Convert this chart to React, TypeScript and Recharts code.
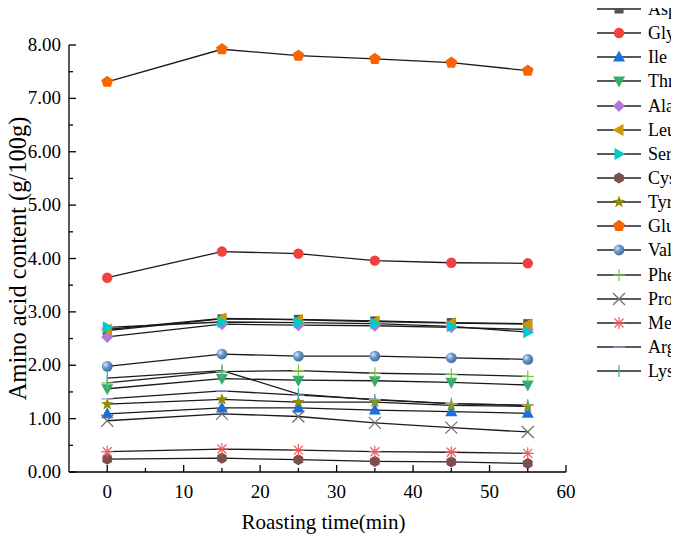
import React from 'react';
import { LineChart, Line, XAxis, YAxis, Legend } from 'recharts';

const timeMin = [0, 15, 25, 35, 45, 55];
const aspValues = [2.65, 2.87, 2.86, 2.83, 2.80, 2.78];
const glyValues = [3.64, 4.13, 4.09, 3.96, 3.92, 3.91];
const ileValues = [1.09, 1.20, 1.20, 1.16, 1.13, 1.10];
const thrValues = [1.56, 1.75, 1.72, 1.71, 1.68, 1.63];
const alaValues = [2.53, 2.77, 2.75, 2.74, 2.71, 2.67];
const leuValues = [2.67, 2.88, 2.85, 2.82, 2.79, 2.77];
const serValues = [2.71, 2.81, 2.80, 2.78, 2.73, 2.62];
const cysValues = [0.24, 0.26, 0.23, 0.20, 0.19, 0.16];
const tyrValues = [1.27, 1.36, 1.31, 1.31, 1.25, 1.23];
const gluValues = [7.31, 7.92, 7.80, 7.74, 7.67, 7.52];
const valValues = [1.98, 2.21, 2.17, 2.17, 2.14, 2.11];
const pheValues = [1.67, 1.88, 1.90, 1.85, 1.83, 1.79];
const proValues = [0.96, 1.09, 1.04, 0.92, 0.83, 0.75];
const metValues = [0.38, 0.43, 0.41, 0.38, 0.37, 0.35];
const argValues = [1.37, 1.52, 1.44, 1.36, 1.28, 1.25];
const lysValues = [1.76, 1.90, 1.46, 1.35, 1.28, 1.25];

const xTicks = [0, 5, 10, 15, 20, 25, 30, 35, 40, 45, 50, 55, 60];
const yTicks = [0, 0.5, 1, 1.5, 2, 2.5, 3, 3.5, 4, 4.5, 5, 5.5, 6, 6.5, 7, 7.5, 8];

const xTitle = 'Roasting time(min)';
const yTitle = 'Amino acid content (g/100g)';

const seriesNames = ['Asp', 'Gly', 'Ile', 'Thr', 'Ala', 'Leu', 'Ser', 'Cys', 'Tyr', 'Glu', 'Val', 'Phe', 'Pro', 'Met', 'Arg', 'Lys'];
const seriesValues = [aspValues, glyValues, ileValues, thrValues, alaValues, leuValues, serValues, cysValues, tyrValues, gluValues, valValues, pheValues, proValues, metValues, argValues, lysValues];

const rows = timeMin.map((t, i) => {
  const r: Record<string, number> = { time: t };
  seriesNames.forEach((n, k) => {
    r[n] = seriesValues[k][i];
  });
  return r;
});

type Kind = 'square' | 'circle' | 'triUp' | 'triDown' | 'diamond' | 'triLeft' | 'triRight' | 'hex' | 'star' | 'pentagon' | 'sphere' | 'plus' | 'cross' | 'asterisk' | 'dash' | 'bar';

const styles: Record<string, { kind: Kind; color: string }> = {
  Asp: { kind: 'square', color: '#515151' },
  Gly: { kind: 'circle', color: '#F14040' },
  Ile: { kind: 'triUp', color: '#1A6FDF' },
  Thr: { kind: 'triDown', color: '#37AD6B' },
  Ala: { kind: 'diamond', color: '#B177DE' },
  Leu: { kind: 'triLeft', color: '#CC9900' },
  Ser: { kind: 'triRight', color: '#00CBCC' },
  Cys: { kind: 'hex', color: '#7D4E4E' },
  Tyr: { kind: 'star', color: '#8E8E00' },
  Glu: { kind: 'pentagon', color: '#FB6501' },
  Val: { kind: 'sphere', color: '#6699CC' },
  Phe: { kind: 'plus', color: '#7DC24A' },
  Pro: { kind: 'cross', color: '#6E6E6E' },
  Met: { kind: 'asterisk', color: '#F05A5A' },
  Arg: { kind: 'dash', color: '#9E9EE6' },
  Lys: { kind: 'bar', color: '#3FB09A' },
};

const FONT = 'Liberation Serif, DejaVu Serif, Times New Roman, serif';

function poly(cx: number, cy: number, n: number, r: number, rot: number, inner?: number) {
  const pts: string[] = [];
  const total = inner ? n * 2 : n;
  for (let i = 0; i < total; i++) {
    const rr = inner && i % 2 === 1 ? inner : r;
    const a = rot + (i * 2 * Math.PI) / total;
    pts.push(`${cx + rr * Math.cos(a)},${cy + rr * Math.sin(a)}`);
  }
  return pts.join(' ');
}

function Marker({ kind, color, cx, cy }: { kind: Kind; color: string; cx: number; cy: number }) {
  const up = -Math.PI / 2;
  switch (kind) {
    case 'square':
      return <rect x={cx - 4.5} y={cy - 4.5} width={9} height={9} fill={color} />;
    case 'circle':
      return <circle cx={cx} cy={cy} r={5.2} fill={color} />;
    case 'triUp':
      return <polygon points={`${cx},${cy - 6.5} ${cx + 6},${cy + 4.5} ${cx - 6},${cy + 4.5}`} fill={color} />;
    case 'triDown':
      return <polygon points={`${cx},${cy + 6.5} ${cx + 6},${cy - 4.5} ${cx - 6},${cy - 4.5}`} fill={color} />;
    case 'diamond':
      return <polygon points={`${cx},${cy - 6} ${cx + 6},${cy} ${cx},${cy + 6} ${cx - 6},${cy}`} fill={color} />;
    case 'triLeft':
      return <polygon points={`${cx - 6.5},${cy} ${cx + 4.5},${cy - 6} ${cx + 4.5},${cy + 6}`} fill={color} />;
    case 'triRight':
      return <polygon points={`${cx + 6.5},${cy} ${cx - 4.5},${cy - 6} ${cx - 4.5},${cy + 6}`} fill={color} />;
    case 'hex':
      return <polygon points={poly(cx, cy, 6, 5.6, up)} fill={color} />;
    case 'star':
      return <polygon points={poly(cx, cy, 5, 6.5, up, 2.7)} fill={color} />;
    case 'pentagon':
      return <polygon points={poly(cx, cy, 5, 6.2, up)} fill={color} />;
    case 'sphere':
      return <circle cx={cx} cy={cy} r={5.4} fill="url(#sphereGrad)" />;
    case 'plus':
      return (
        <g stroke={color} strokeWidth={1.2}>
          <line x1={cx - 6} x2={cx + 6} y1={cy} y2={cy} />
          <line x1={cx} x2={cx} y1={cy - 6} y2={cy + 6} />
        </g>
      );
    case 'cross':
      return (
        <g stroke={color} strokeWidth={1.2}>
          <line x1={cx - 6} x2={cx + 6} y1={cy - 6} y2={cy + 6} />
          <line x1={cx - 6} x2={cx + 6} y1={cy + 6} y2={cy - 6} />
        </g>
      );
    case 'asterisk':
      return (
        <g stroke={color} strokeWidth={1.2}>
          <line x1={cx - 6} x2={cx + 6} y1={cy} y2={cy} />
          <line x1={cx} x2={cx} y1={cy - 6} y2={cy + 6} />
          <line x1={cx - 4.5} x2={cx + 4.5} y1={cy - 4.5} y2={cy + 4.5} />
          <line x1={cx - 4.5} x2={cx + 4.5} y1={cy + 4.5} y2={cy - 4.5} />
        </g>
      );
    case 'dash':
      return <line x1={cx - 6} x2={cx + 6} y1={cy} y2={cy} stroke={color} strokeWidth={1.3} />;
    case 'bar':
      return <line x1={cx} x2={cx} y1={cy - 6} y2={cy + 6} stroke={color} strokeWidth={1.3} />;
    default:
      return null;
  }
}

const XTick = (props: any) => {
  const { x, y, payload } = props;
  const v = payload.value as number;
  const major = v % 10 === 0;
  return (
    <g>
      <line x1={x} x2={x} y1={y} y2={y - (major ? 7 : 4)} stroke="#000" strokeWidth={1.3} />
      {major && (
        <text x={x} y={y + 26} textAnchor="middle" fontFamily={FONT} fontSize={19} fill="#000">
          {v}
        </text>
      )}
    </g>
  );
};

const YTick = (props: any) => {
  const { x, y, payload } = props;
  const v = payload.value as number;
  const major = Math.abs(v - Math.round(v)) < 1e-6;
  return (
    <g>
      <line x1={x} x2={x + (major ? 7 : 4)} y1={y} y2={y} stroke="#000" strokeWidth={1.3} />
      {major && (
        <text x={x - 8} y={y + 6} textAnchor="end" fontFamily={FONT} fontSize={19} fill="#000">
          {v.toFixed(2)}
        </text>
      )}
    </g>
  );
};

const LegendContent = () => (
  <div style={{ fontFamily: FONT, fontSize: 18, color: '#000', width: 86, overflow: 'visible' }}>
    {seriesNames.map((n) => (
      <div key={n} style={{ height: 24.15, display: 'flex', alignItems: 'center', whiteSpace: 'nowrap' }}>
        <svg width={52} height={24} style={{ display: 'block', flexShrink: 0 }}>
          <line x1={4} x2={48} y1={12} y2={12} stroke="#222" strokeWidth={1.3} />
          <Marker kind={styles[n].kind} color={styles[n].color} cx={26} cy={12} />
        </svg>
        <span style={{ marginLeft: 3, lineHeight: '24px' }}>{n}</span>
      </div>
    ))}
  </div>
);

const YLabel = (props: any) => {
  const vb = props.viewBox || { x: 8, y: 37, width: 61, height: 427 };
  const cx = 17.5;
  const cy = vb.y + vb.height / 2;
  return (
    <text x={cx} y={cy} transform={`rotate(-90, ${cx}, ${cy})`} textAnchor="middle" dominantBaseline="central" fontFamily={FONT} fontSize={24.5} fill="#000">
      {yTitle}
    </text>
  );
};

const XLabel = (props: any) => {
  const vb = props.viewBox || { x: 69, y: 464, width: 497, height: 62 };
  const cx = vb.x + vb.width / 2 + 6;
  return (
    <text x={cx} y={vb.y + 57} textAnchor="middle" fontFamily={FONT} fontSize={21} fill="#000">
      {xTitle}
    </text>
  );
};

export default function App() {
  return (
    <div style={{ width: 679, height: 526, position: 'relative', marginLeft: -8, fontFamily: FONT }}>
      <LineChart width={679} height={526} data={rows} margin={{ top: 37, right: 113, bottom: 0, left: 8 }}>
        <defs>
          <radialGradient id="sphereGrad" cx="35%" cy="35%" r="70%">
            <stop offset="0%" stopColor="#d8e8f8" />
            <stop offset="45%" stopColor="#6699CC" />
            <stop offset="100%" stopColor="#3d6a99" />
          </radialGradient>
        </defs>
        <XAxis
          dataKey="time"
          type="number"
          domain={[-5, 60]}
          ticks={xTicks}
          interval={0}
          height={62}
          tickSize={0}
          tickMargin={0}
          tickLine={false}
          axisLine={{ stroke: '#000', strokeWidth: 1.3 }}
          tick={<XTick />}
          label={<XLabel />}
        />
        <YAxis
          type="number"
          domain={[0, 8]}
          ticks={yTicks}
          interval={0}
          width={61}
          tickSize={0}
          tickMargin={0}
          tickLine={false}
          axisLine={{ stroke: '#000', strokeWidth: 1.3 }}
          tick={<YTick />}
          label={<YLabel />}
        />
        <Legend
          layout="vertical"
          align="center"
          verticalAlign="middle"
          content={<LegendContent />}
          wrapperStyle={{ left: 593, top: -11, width: 86, height: 400 }}
        />
        {seriesNames.map((n) => (
          <Line
            key={n}
            dataKey={n}
            name={n}
            type="linear"
            stroke="#1a1a1a"
            strokeWidth={1.3}
            isAnimationActive={false}
            activeDot={false}
            dot={(p: any) => (
              <Marker key={`${n}-${p.index}`} kind={styles[n].kind} color={styles[n].color} cx={p.cx} cy={p.cy} />
            )}
          />
        ))}
      </LineChart>
    </div>
  );
}
